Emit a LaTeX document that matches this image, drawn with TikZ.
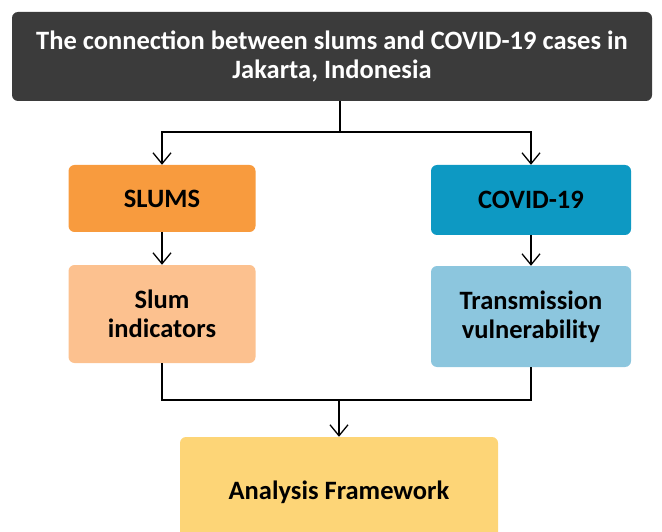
\documentclass[tikz,border=0pt]{standalone}
\usepackage{fontspec}
\setmainfont{Carlito}
\usetikzlibrary{arrows.meta}

\definecolor{titlegray}{HTML}{3B3B3B}
\definecolor{slumorange}{HTML}{F89B3E}
\definecolor{slumlight}{HTML}{FCC18F}
\definecolor{covidblue}{HTML}{0D99C3}
\definecolor{covidlight}{HTML}{8CC6DE}
\definecolor{frameyellow}{HTML}{FDD577}

\begin{document}
\begin{tikzpicture}[x=1pt, y=-1pt,
    box/.style={rounded corners=6pt, align=center, inner sep=0pt,
        font=\fontsize{26.5}{29}\selectfont\bfseries},
    link/.style={line width=1.3pt, -{Straight Barb[length=11pt,width=18pt]}}]

    \useasboundingbox (0,0) rectangle (662,532);
    \clip (0,0) rectangle (662,532);

    % boxes
    \node[box, fill=titlegray, text=white, minimum width=640pt, minimum height=89pt]
        (title) at (332,56.5) {The connection between slums and COVID-19 cases in\\Jakarta, Indonesia};

    \node[box, fill=slumorange, minimum width=187pt, minimum height=67pt] (slums) at (162,198.5) {SLUMS};
    \node[box, fill=slumlight, minimum width=187pt, minimum height=98pt] (indicators) at (162,314) {Slum\\indicators};

    \node[box, fill=covidblue, minimum width=200pt, minimum height=70pt] (covid) at (531,200) {COVID-19};
    \node[box, fill=covidlight, minimum width=200pt, minimum height=101pt] (transmission) at (531,316.5) {Transmission\\vulnerability};

    \node[box, fill=frameyellow, minimum width=318pt, minimum height=110pt] (framework) at (339,492) {Analysis Framework};

    % connectors
    \coordinate (split) at (340,132);
    \coordinate (merge) at (339,400);

    \draw[line width=1.3pt] (split |- title.south) -- (split);
    \draw[link] (split) -| (slums.north);
    \draw[link] (split) -| (covid.north);

    \draw[link] (slums) -- (indicators);
    \draw[link] (covid) -- (transmission);

    \draw[line width=1.3pt] (indicators.south) |- (merge);
    \draw[line width=1.3pt] (transmission.south) |- (merge);
    \draw[link] (merge) -- (framework.north);

\end{tikzpicture}
\end{document}
